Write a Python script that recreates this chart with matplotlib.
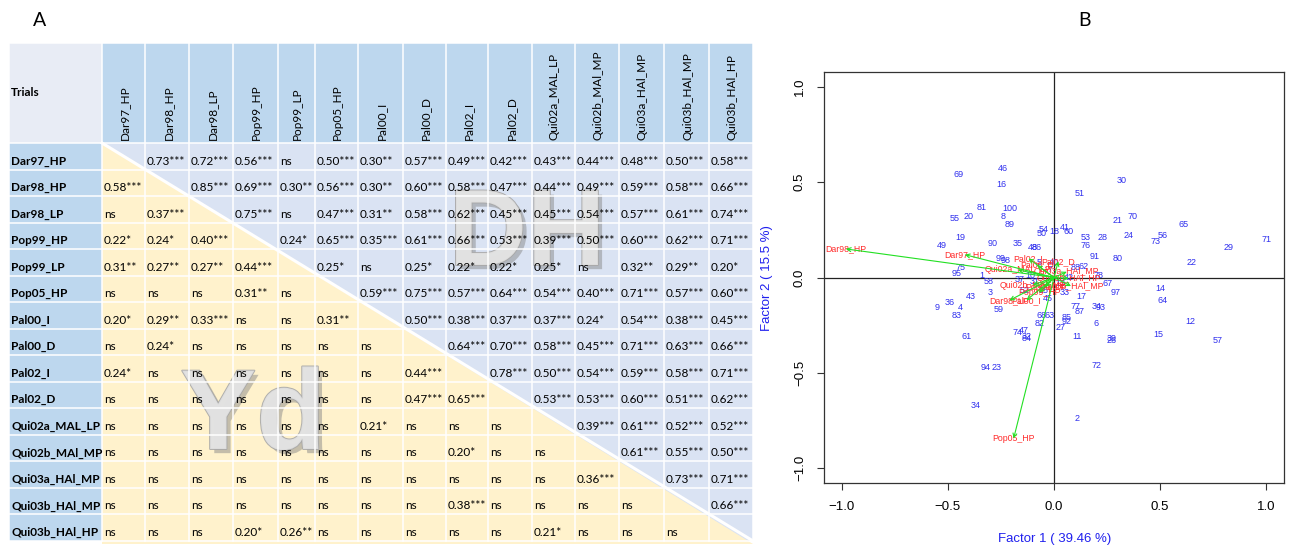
import matplotlib
matplotlib.use('Agg')
import matplotlib.pyplot as plt
import matplotlib.patheffects as pe
from matplotlib.patches import Rectangle, Polygon

# ---- panel A: correlation table ----
trials = ["Dar97_HP", "Dar98_HP", "Dar98_LP", "Pop99_HP", "Pop99_LP", "Pop05_HP",
          "Pal00_I", "Pal00_D", "Pal02_I", "Pal02_D", "Qui02a_MAL_LP", "Qui02b_MAl_MP",
          "Qui03a_HAl_MP", "Qui03b_HAl_MP", "Qui03b_HAl_HP"]

# upper triangle (DH), row i -> columns i+1..14
upper = [
    ["0.73***", "0.72***", "0.56***", "ns", "0.50***", "0.30**", "0.57***", "0.49***", "0.42***", "0.43***", "0.44***", "0.48***", "0.50***", "0.58***"],
    ["0.85***", "0.69***", "0.30**", "0.56***", "0.30**", "0.60***", "0.58***", "0.47***", "0.44***", "0.49***", "0.59***", "0.58***", "0.66***"],
    ["0.75***", "ns", "0.47***", "0.31**", "0.58***", "0.62***", "0.45***", "0.45***", "0.54***", "0.57***", "0.61***", "0.74***"],
    ["0.24*", "0.65***", "0.35***", "0.61***", "0.66***", "0.53***", "0.39***", "0.50***", "0.60***", "0.62***", "0.71***"],
    ["0.25*", "ns", "0.25*", "0.22*", "0.22*", "0.25*", "ns", "0.32**", "0.29**", "0.20*"],
    ["0.59***", "0.75***", "0.57***", "0.64***", "0.54***", "0.40***", "0.71***", "0.57***", "0.60***"],
    ["0.50***", "0.38***", "0.37***", "0.37***", "0.24*", "0.54***", "0.38***", "0.45***"],
    ["0.64***", "0.70***", "0.58***", "0.45***", "0.71***", "0.63***", "0.66***"],
    ["0.78***", "0.50***", "0.54***", "0.59***", "0.58***", "0.71***"],
    ["0.53***", "0.53***", "0.60***", "0.51***", "0.62***"],
    ["0.39***", "0.61***", "0.52***", "0.52***"],
    ["0.61***", "0.55***", "0.50***"],
    ["0.73***", "0.71***"],
    ["0.66***"],
    [],
]

# lower triangle (Yd), row i -> columns 0..i-1
lower = [
    [],
    ["0.58***"],
    ["ns", "0.37***"],
    ["0.22*", "0.24*", "0.40***"],
    ["0.31**", "0.27**", "0.27**", "0.44***"],
    ["ns", "ns", "ns", "0.31**", "ns"],
    ["0.20*", "0.29**", "0.33***", "ns", "ns", "0.31**"],
    ["ns", "0.24*", "ns", "ns", "ns", "ns", "ns"],
    ["0.24*", "ns", "ns", "ns", "ns", "ns", "ns", "0.44***"],
    ["ns", "ns", "ns", "ns", "ns", "ns", "ns", "0.47***", "0.65***"],
    ["ns", "ns", "ns", "ns", "ns", "ns", "0.21*", "ns", "ns", "ns"],
    ["ns", "ns", "ns", "ns", "ns", "ns", "ns", "ns", "0.20*", "ns", "ns"],
    ["ns", "ns", "ns", "ns", "ns", "ns", "ns", "ns", "ns", "ns", "ns", "0.36***"],
    ["ns", "ns", "ns", "ns", "ns", "ns", "ns", "ns", "0.38***", "ns", "ns", "ns", "ns"],
    ["ns", "ns", "ns", "0.20*", "0.26**", "ns", "ns", "ns", "ns", "ns", "0.21*", "ns", "ns", "ns"],
]

# ---- panel B: biplot ----
pt_labels = ["69", "46", "16", "51", "30", "81", "100", "8", "55", "20", "89", "21", "70", "65",
             "54", "18", "41", "60", "50", "19", "90", "35", "48", "86", "53", "28", "24", "56",
             "73", "71", "29", "76", "49", "91", "80", "22", "99", "98", "62", "88", "75", "95",
             "1", "78", "58", "67", "14", "97", "3", "17", "43", "64", "36", "9", "4", "77", "34",
             "93", "87", "59", "83", "68", "63", "85", "92", "82", "12", "6", "27", "47", "74",
             "32", "84", "15", "11", "61", "39", "26", "57", "72", "94", "23", "34", "2",
             "5", "7", "10", "13", "25", "31", "33", "37", "40", "42", "45", "52"]
pt_x = [-0.45, -0.24, -0.25, 0.12, 0.32, -0.34, -0.21, -0.24, -0.47, -0.40, -0.21, 0.30, 0.37, 0.61,
        -0.05, 0.00, 0.05, 0.07, -0.06, -0.44, -0.29, -0.17, -0.10, -0.08, 0.15, 0.23, 0.35, 0.51,
        0.48, 1.00, 0.82, 0.15, -0.53, 0.19, 0.30, 0.65, -0.25, -0.23, 0.14, 0.10, -0.44, -0.46,
        -0.34, 0.21, -0.31, 0.25, 0.50, 0.29, -0.30, 0.13, -0.39, 0.51, -0.49, -0.55, -0.44, 0.10, 0.20,
        0.22, 0.12, -0.26, -0.46, -0.06, -0.02, 0.06, 0.06, -0.07, 0.64, 0.20, 0.03, -0.14, -0.17,
        -0.13, -0.13, 0.49, 0.11, -0.41, 0.27, 0.27, 0.77, 0.20, -0.32, -0.27, -0.37, 0.11,
        -0.07, -0.02, -0.11, 0.03, -0.05, -0.09, 0.05, -0.16, 0.00, 0.07, -0.03, -0.14]
pt_y = [0.54, 0.57, 0.49, 0.44, 0.51, 0.37, 0.36, 0.32, 0.31, 0.32, 0.28, 0.30, 0.32, 0.28,
        0.25, 0.24, 0.26, 0.24, 0.23, 0.21, 0.18, 0.18, 0.16, 0.16, 0.21, 0.21, 0.22, 0.22,
        0.19, 0.20, 0.16, 0.17, 0.17, 0.11, 0.10, 0.08, 0.10, 0.09, 0.06, 0.05, 0.05, 0.02,
        0.01, 0.01, -0.02, -0.03, -0.06, -0.08, -0.08, -0.10, -0.10, -0.12, -0.13, -0.16, -0.16, -0.15, -0.15,
        -0.16, -0.18, -0.17, -0.20, -0.20, -0.20, -0.21, -0.23, -0.24, -0.23, -0.24, -0.26, -0.28, -0.29,
        -0.31, -0.32, -0.30, -0.31, -0.31, -0.32, -0.33, -0.33, -0.46, -0.47, -0.47, -0.67, -0.74,
        0.08, 0.04, 0.01, -0.03, -0.07, -0.02, -0.08, -0.01, 0.08, 0.00, -0.11, -0.07]

var_x = [-0.42, -0.98, -0.21, -0.07, -0.04, -0.19, -0.13, -0.08, -0.12, 0.02, -0.17, -0.10, 0.06, 0.08, 0.07]
var_y = [0.12, 0.15, -0.12, -0.08, -0.05, -0.845, -0.12, 0.065, 0.10, 0.085, 0.04, -0.04, 0.03, -0.045, -0.005]

fig = plt.figure(figsize=(12.9, 5.5), dpi=100, facecolor='white')

# overlay axes in pixel units for the table
ax0 = fig.add_axes([0, 0, 1, 1])
ax0.set_xlim(0, 1290)
ax0.set_ylim(550, 0)
ax0.axis('off')

col_edges = [102, 145, 189, 233, 278, 315, 358, 403, 446, 488, 532, 575, 619, 664, 709, 753]
left, head_top, body_top, row_h = 9, 43, 143, 26.53
n = len(trials)
body_bot = body_top + n * row_h
right = col_edges[-1]

ax0.add_patch(Rectangle((left, head_top), col_edges[0] - left, body_top - head_top, color='#E8ECF5', lw=0))
ax0.add_patch(Rectangle((col_edges[0], head_top), right - col_edges[0], body_top - head_top, color='#BDD7EE', lw=0))
ax0.add_patch(Rectangle((left, body_top), col_edges[0] - left, body_bot - body_top, color='#BDD7EE', lw=0))
ax0.add_patch(Rectangle((col_edges[0], body_top), right - col_edges[0], body_bot - body_top, color='#DAE3F3', lw=0))
ax0.add_patch(Polygon([(col_edges[0], body_top), (col_edges[0], body_bot + 3), (right, body_bot + 3)],
                      closed=True, color='#FFF2CC', lw=0))

# watermarks (under the cell text)
wm_fx = [pe.withSimplePatchShadow(offset=(3, -3), shadow_rgbFace='#8a8a8a', alpha=0.5),
         pe.Stroke(linewidth=1.4, foreground='#a8a8a8'), pe.Normal()]
ax0.text(527, 237, 'DH', family='Liberation Sans', fontweight='bold', fontsize=78,
         color='#e2e2e2', alpha=0.9, ha='center', va='center', path_effects=wm_fx, zorder=2)
ax0.text(253, 420, 'Yd', family='Liberation Sans', fontweight='bold', fontsize=82,
         color='#e2e2e2', alpha=0.9, ha='center', va='center', path_effects=wm_fx, zorder=2)

ax0.plot([col_edges[0], right], [body_top, body_bot], color='white', lw=2.2, zorder=3)

# grid lines
for x in col_edges:
    ax0.plot([x, x], [head_top, body_bot], color='white', lw=1.1, zorder=3)
ax0.plot([left, left], [head_top, body_bot], color='white', lw=1.1, zorder=3)
for i in range(n + 1):
    y = body_top + i * row_h
    ax0.plot([left, right], [y, y], color='white', lw=1.1, zorder=3)
ax0.plot([left, right], [head_top, head_top], color='white', lw=1.1, zorder=3)

tfont = dict(family='Lato', fontsize=8.5, color='black', zorder=4)
ax0.text(left + 2, 93, 'Trials', fontweight='bold', va='center', ha='left', **tfont)
for j, name in enumerate(trials):
    xc = (col_edges[j] + col_edges[j + 1]) / 2
    ax0.text(xc + 1, body_top - 3, name, rotation=90, ha='center', va='bottom', **tfont)
for i, name in enumerate(trials):
    yb = body_top + (i + 1) * row_h - 5
    ax0.text(left + 2, yb, name, fontweight='bold', ha='left', va='baseline', **tfont)
    for j in range(n):
        if j > i:
            s = upper[i][j - i - 1]
        elif j < i:
            s = lower[i][j]
        else:
            continue
        ax0.text(col_edges[j] + 2, yb, s, ha='left', va='baseline', **tfont)

ax0.text(40, 20, 'A', family='Lato', fontsize=14, ha='center', va='center')
ax0.text(1085, 20, 'B', family='Lato', fontsize=14, ha='center', va='center')

# axis titles for biplot (blue, R style)
ax0.text(1055, 539, 'Factor 1 ( 39.46 %)', family='Liberation Sans', fontsize=9.5,
         color='#2020ee', ha='center', va='center')
ax0.text(767, 278, 'Factor 2 ( 15.5 %)', family='Liberation Sans', fontsize=9.5,
         color='#2020ee', ha='center', va='center', rotation=90)

# ---- biplot axes ----
ax = fig.add_axes([824 / 1290, 1 - 483 / 550, 460 / 1290, 411 / 550])
ax.set_xlim(-1.083, 1.083)
ax.set_ylim(-1.079, 1.079)
ticks = [-1.0, -0.5, 0.0, 0.5, 1.0]
ax.set_xticks(ticks)
ax.set_yticks(ticks)
ax.set_xticklabels(['\u22121.0', '\u22120.5', '0.0', '0.5', '1.0'], family='Liberation Sans', fontsize=9.5)
ax.set_yticklabels(['\u22121.0', '\u22120.5', '0.0', '0.5', '1.0'], family='Liberation Sans', fontsize=9.5,
                   rotation=90, va='center')
ax.tick_params(length=5, width=0.8, color='#333333', pad=8)
for sp in ax.spines.values():
    sp.set_linewidth(0.9)
    sp.set_color('#333333')
ax.axhline(0, color='#222222', lw=0.9, zorder=1)
ax.axvline(0, color='#222222', lw=0.9, zorder=1)

for lab, x, y in zip(pt_labels, pt_x, pt_y):
    ax.text(x, y, lab, family='Liberation Sans', fontsize=6.5, color='#3030ee',
            ha='center', va='center', zorder=2)
for name, x, y in zip(trials, var_x, var_y):
    ax.text(x, y, name, family='Liberation Sans', fontsize=6.3, color='#ff2a2a',
            ha='center', va='center', zorder=3)
for x, y in zip(var_x, var_y):
    ax.annotate('', xy=(x, y), xytext=(0, 0),
                arrowprops=dict(arrowstyle='->', color='#22e022', lw=0.8,
                                mutation_scale=7, shrinkA=0, shrinkB=0), zorder=4)

fig.savefig('out.png', dpi=100)
